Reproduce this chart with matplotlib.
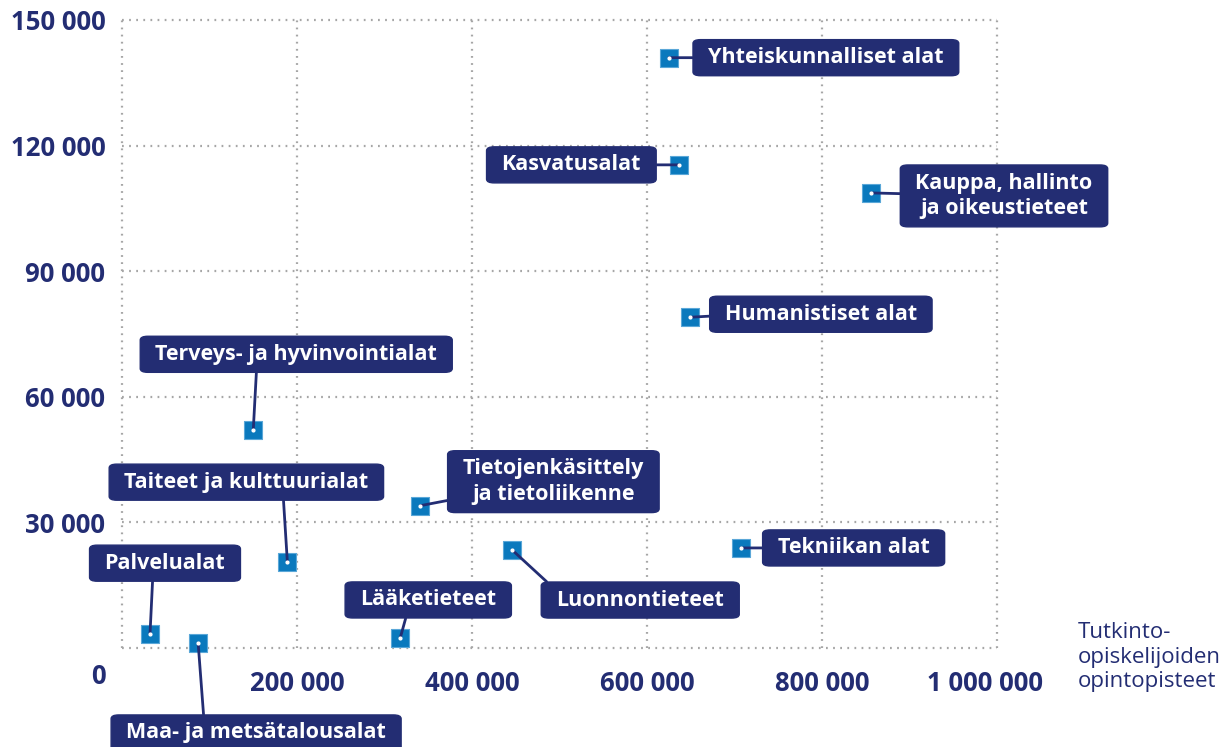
import matplotlib
matplotlib.use("Agg")
import matplotlib.pyplot as plt
from matplotlib.transforms import ScaledTranslation

plt.rcParams['font.family'] = ['Open Sans', 'DejaVu Sans']

# Data
labels = ["Yhteiskunnalliset alat", "Kasvatusalat", "Kauppa, hallinto\nja oikeustieteet",
          "Humanistiset alat", "Terveys- ja hyvinvointialat", "Tietojenkäsittely\nja tietoliikenne",
          "Taiteet ja kulttuurialat", "Palvelualat", "Maa- ja metsätalousalat",
          "Lääketieteet", "Luonnontieteet", "Tekniikan alat"]
credits = [625000, 637000, 856000, 649000, 150000, 341000,
           189000, 32000, 87000, 318000, 446000, 707000]
degrees = [141000, 115400, 108700, 79000, 52000, 34000,
           20500, 3300, 1200, 2400, 23400, 23900]
x_ticks = [200000, 400000, 600000, 800000, 1000000]
x_ticklabels = ["200 000", "400 000", "600 000", "800 000", "1 000 000"]
y_ticks = [30000, 60000, 90000, 120000, 150000]
y_ticklabels = ["30 000", "60 000", "90 000", "120 000", "150 000"]
x_title = "Tutkinto-\nopiskelijoiden\nopintopisteet"

# Label placement (pixel offsets of box centre from marker, and line anchor on box)
offsets = [(157, 0), (-108, 0), (133, -3), (131, 3), (43, 76), (133, 24),
           (-41, 80), (15, 71), (58, -90), (28, 38), (128, -50), (113, 0)]
relposes = [(0, 0.5), (1, 0.5), (0, 0.54), (0, 0.45), (0.36, 0), (0, 0.16),
            (0.65, 0), (0.40, 0), (0.30, 1), (0.35, 0), (0.0, 0.95), (0, 0.5)]

NAVY = "#232d73"
BLUE = "#0a79bd"
GRID = "#a6a6a6"

W, H = 1225, 747
fig = plt.figure(figsize=(W / 100, H / 100), dpi=100)
ax = fig.add_axes([122 / W, (H - 648) / H, (997 - 122) / W, (648 - 20) / H])
ax.set_xlim(0, 1000000)
ax.set_ylim(0, 150000)
for s in ax.spines.values():
    s.set_visible(False)

for xv in [0] + x_ticks:
    ax.axvline(xv, color=GRID, lw=1.6, ls=(0, (0.8, 2.4)), clip_on=False, zorder=0)
for yv in [0] + y_ticks:
    ax.axhline(yv, color=GRID, lw=1.6, ls=(0, (0.8, 2.4)), clip_on=False, zorder=0)

ax.set_xticks(x_ticks)
ax.set_xticklabels(x_ticklabels)
ax.set_yticks(y_ticks)
ax.set_yticklabels(y_ticklabels)
ax.tick_params(length=0, labelsize=18.5, labelcolor=NAVY)
ax.tick_params(axis='x', pad=16)
ax.tick_params(axis='y', pad=12)
for t in ax.get_xticklabels() + ax.get_yticklabels():
    t.set_fontweight('bold')
last = ax.get_xticklabels()[-1]
last.set_transform(last.get_transform() + ScaledTranslation(-0.12, 0, fig.dpi_scale_trans))

fig.text(98 / W, 1 - 677 / H, "0", ha='center', va='center', fontsize=18.5,
         fontweight='bold', color=NAVY)
fig.text(1078 / W, 1 - 657 / H, x_title, ha='left', va='center', fontsize=16,
         color=NAVY, linespacing=1.2)

ax.scatter(credits, degrees, marker='s', s=170, color=BLUE, edgecolor="#5aa7d8",
           linewidth=0.8, zorder=3, clip_on=False)

for lab, xv, yv, off, rp in zip(labels, credits, degrees, offsets, relposes):
    ax.annotate(lab, xy=(xv, yv), xytext=off, textcoords='offset pixels',
                ha='center', va='center', fontsize=15.5, fontweight='bold', color='white',
                linespacing=1.3, annotation_clip=False, zorder=4,
                bbox=dict(boxstyle='round,pad=0.7,rounding_size=0.35', fc=NAVY, ec=NAVY,
                          mutation_aspect=0.5),
                arrowprops=dict(arrowstyle='-', color=NAVY, lw=2, relpos=rp,
                                shrinkA=0, shrinkB=0))

ax.scatter(credits, degrees, marker='o', s=4, color='white', zorder=5, clip_on=False)

fig.savefig("out.png", dpi=100)
